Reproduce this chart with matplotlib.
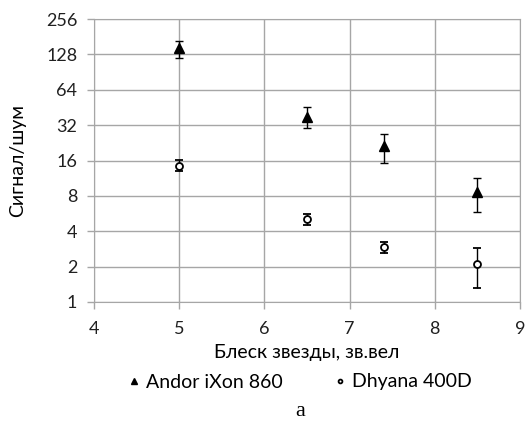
import matplotlib.pyplot as plt
from matplotlib.ticker import FixedLocator, FixedFormatter, NullLocator

# data
mag = [5.0, 6.5, 7.4, 8.5]
andor = [144, 37.8, 21.4, 8.6]
andor_hi = [165, 45.9, 26.7, 11.4]
andor_lo = [120, 30.5, 15.3, 5.8]
dhyana = [14.5, 5.1, 2.93, 2.1]
dhyana_hi = [16.2, 5.6, 3.25, 2.9]
dhyana_lo = [13.1, 4.5, 2.62, 1.32]
y_ticks = [1, 2, 4, 8, 16, 32, 64, 128, 256]
x_ticks = [4, 5, 6, 7, 8, 9]

plt.rcParams['font.family'] = ['Lato', 'DejaVu Sans']

fig = plt.figure(figsize=(5.26, 4.24), dpi=100)
ax = fig.add_axes([94 / 526, 1 - 302 / 424, 426 / 526, 283 / 424])

def err(v, hi, lo):
    return [[a - b for a, b in zip(v, lo)], [b - a for a, b in zip(v, hi)]]

ax.errorbar(mag, andor, yerr=err(andor, andor_hi, andor_lo), fmt='^', color='black',
            ms=7, elinewidth=1, capsize=3, capthick=1, label='Andor iXon 860', zorder=3)
ax.errorbar(mag, dhyana, yerr=err(dhyana, dhyana_hi, dhyana_lo), fmt='o', color='black',
            mfc='white', mew=1.3, ms=5, elinewidth=1, capsize=3, capthick=1,
            label='Dhyana 400D', zorder=3)

ax.set_yscale('log', base=2)
ax.set_ylim(1, 256)
ax.set_xlim(4, 9)
ax.yaxis.set_major_locator(FixedLocator(y_ticks))
ax.yaxis.set_major_formatter(FixedFormatter([str(t) for t in y_ticks]))
ax.yaxis.set_minor_locator(NullLocator())
ax.set_xticks(x_ticks)

ax.grid(True, color='#a6a6a6', linewidth=1)
for s in ax.spines.values():
    s.set_color('#a6a6a6')
ax.tick_params(colors='#a6a6a6', labelcolor='#202020', labelsize=13, length=5, width=1)
ax.tick_params(axis='y', pad=7)
ax.tick_params(axis='x', pad=9)

ax.set_xlabel('Блеск звезды, зв.вел', fontsize=14)
ax.xaxis.set_label_coords(0.5, -(344 - 302) / 283)
ax.set_ylabel('Сигнал/шум', fontsize=14)
ax.yaxis.set_label_coords(-(94 - 26) / 426, 0.5)

h, l = ax.get_legend_handles_labels()
h = [x[0] for x in h]
fig.legend(h, l, loc='center', bbox_to_anchor=(300 / 526, 1 - 382 / 424), ncol=2,
           frameon=False, fontsize=14, markerscale=0.55, handlelength=0.6,
           handletextpad=0.35, columnspacing=2.6, borderpad=0, borderaxespad=0)

fig.text(300 / 526, 1 - 411 / 424, 'а', ha='center', va='center', fontsize=16,
         family='Liberation Serif')

fig.savefig('out.png', dpi=100)
